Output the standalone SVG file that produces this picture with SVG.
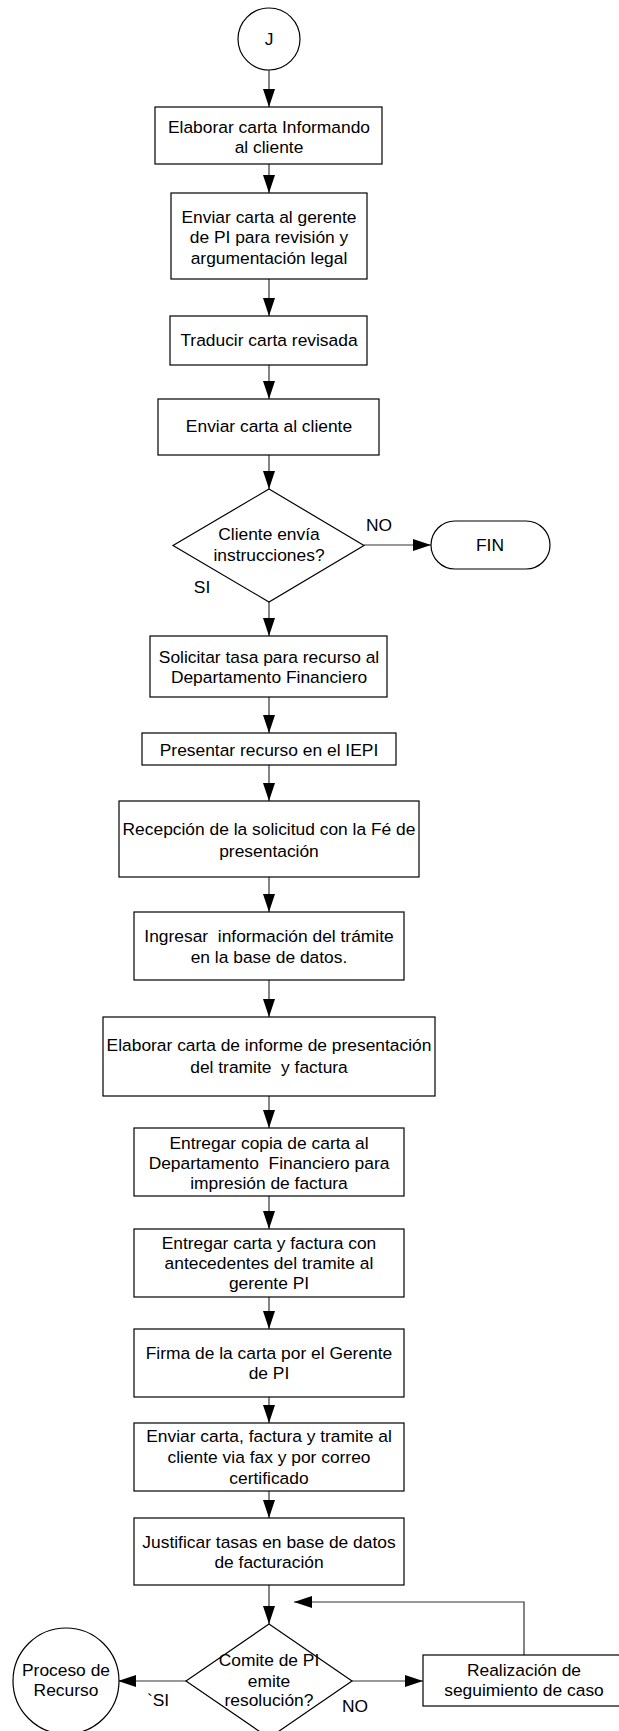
<svg xmlns="http://www.w3.org/2000/svg" width="619" height="1731" viewBox="0 0 619 1731">
<defs>
<style>
.n{fill:#fff;stroke:#000;stroke-width:1.2}
.t{font-family:"Liberation Sans",Arial,sans-serif;font-size:17.4px;fill:#000;text-anchor:middle}
.c{fill:none;stroke:#333;stroke-width:1.2}
</style>
<marker id="ah" markerUnits="userSpaceOnUse" markerWidth="18" markerHeight="12" refX="18" refY="6" orient="auto">
<path d="M0,0 L18,6 L0,12 z" fill="#000"/>
</marker>
</defs>
<rect width="619" height="1731" fill="#fff"/>
<g id="connectors">
<line class="c" x1="269" y1="70" x2="269" y2="107" marker-end="url(#ah)"/>
<line class="c" x1="269" y1="164" x2="269" y2="193" marker-end="url(#ah)"/>
<line class="c" x1="269" y1="279" x2="269" y2="316" marker-end="url(#ah)"/>
<line class="c" x1="269" y1="365" x2="269" y2="399" marker-end="url(#ah)"/>
<line class="c" x1="269" y1="455" x2="269" y2="489" marker-end="url(#ah)"/>
<line class="c" x1="364" y1="545" x2="431" y2="545" marker-end="url(#ah)"/>
<line class="c" x1="269" y1="602" x2="269" y2="636" marker-end="url(#ah)"/>
<line class="c" x1="269" y1="697" x2="269" y2="733" marker-end="url(#ah)"/>
<line class="c" x1="269" y1="765" x2="269" y2="801" marker-end="url(#ah)"/>
<line class="c" x1="269" y1="877" x2="269" y2="912" marker-end="url(#ah)"/>
<line class="c" x1="269" y1="980" x2="269" y2="1017" marker-end="url(#ah)"/>
<line class="c" x1="269" y1="1096" x2="269" y2="1128" marker-end="url(#ah)"/>
<line class="c" x1="269" y1="1196" x2="269" y2="1229" marker-end="url(#ah)"/>
<line class="c" x1="269" y1="1297" x2="269" y2="1329" marker-end="url(#ah)"/>
<line class="c" x1="269" y1="1397" x2="269" y2="1423" marker-end="url(#ah)"/>
<line class="c" x1="269" y1="1491" x2="269" y2="1518" marker-end="url(#ah)"/>
<line class="c" x1="269" y1="1585" x2="269" y2="1624" marker-end="url(#ah)"/>
<line class="c" x1="186" y1="1681" x2="118" y2="1681" marker-end="url(#ah)"/>
<line class="c" x1="352" y1="1681" x2="423" y2="1681" marker-end="url(#ah)"/>
<polyline class="c" points="524,1655 524,1602 294,1602" marker-end="url(#ah)"/>
<text class="t" x="379" y="531">NO</text>
<text class="t" x="202" y="593">SI</text>
<text class="t" x="158" y="1706">`SI</text>
<text class="t" x="355" y="1712">NO</text>
</g>
<g id="start">
<circle class="n" cx="269" cy="39" r="31"/>
<text class="t" x="269" y="45">J</text>
</g>
<g id="n1">
<rect class="n" x="155" y="107" width="227" height="57"/>
<text class="t" x="269" y="133">Elaborar carta Informando</text>
<text class="t" x="269" y="153">al cliente</text>
</g>
<g id="n2">
<rect class="n" x="171" y="193" width="196" height="86"/>
<text class="t" x="269" y="223">Enviar carta al gerente</text>
<text class="t" x="269" y="243">de PI para revisión y</text>
<text class="t" x="269" y="264">argumentación legal</text>
</g>
<g id="n3">
<rect class="n" x="170" y="316" width="197" height="49"/>
<text class="t" x="269" y="346">Traducir carta revisada</text>
</g>
<g id="n4">
<rect class="n" x="158" y="399" width="221" height="56"/>
<text class="t" x="269" y="432">Enviar carta al cliente</text>
</g>
<g id="d1">
<polygon class="n" points="269,489 364,545.5 269,602 173,545.5"/>
<text class="t" x="269" y="540">Cliente envía</text>
<text class="t" x="269" y="561">instrucciones?</text>
</g>
<g id="fin">
<rect class="n" x="431" y="521" width="119" height="48" rx="24" ry="24"/>
<text class="t" x="490" y="551">FIN</text>
</g>
<g id="n5">
<rect class="n" x="150" y="636" width="237" height="61"/>
<text class="t" x="269" y="663">Solicitar tasa para recurso al</text>
<text class="t" x="269" y="683">Departamento Financiero</text>
</g>
<g id="n6">
<rect class="n" x="142" y="733" width="254" height="32"/>
<text class="t" x="269" y="756">Presentar recurso en el IEPI</text>
</g>
<g id="n7">
<rect class="n" x="119" y="801" width="300" height="76"/>
<text class="t" x="269" y="835">Recepción de la solicitud con la Fé de</text>
<text class="t" x="269" y="857">presentación</text>
</g>
<g id="n8">
<rect class="n" x="134" y="912" width="270" height="68"/>
<text class="t" x="269" y="942" xml:space="preserve">Ingresar  información del trámite</text>
<text class="t" x="269" y="963">en la base de datos.</text>
</g>
<g id="n9">
<rect class="n" x="103" y="1017" width="332" height="79"/>
<text class="t" x="269" y="1051">Elaborar carta de informe de presentación</text>
<text class="t" x="269" y="1073" xml:space="preserve">del tramite  y factura</text>
</g>
<g id="n10">
<rect class="n" x="134" y="1128" width="270" height="68"/>
<text class="t" x="269" y="1149">Entregar copia de carta al</text>
<text class="t" x="269" y="1169" xml:space="preserve">Departamento  Financiero para</text>
<text class="t" x="269" y="1189">impresión de factura</text>
</g>
<g id="n11">
<rect class="n" x="134" y="1229" width="270" height="68"/>
<text class="t" x="269" y="1249">Entregar carta y factura con</text>
<text class="t" x="269" y="1269">antecedentes del tramite al</text>
<text class="t" x="269" y="1289">gerente PI</text>
</g>
<g id="n12">
<rect class="n" x="134" y="1329" width="270" height="68"/>
<text class="t" x="269" y="1359">Firma de la carta por el Gerente</text>
<text class="t" x="269" y="1379">de PI</text>
</g>
<g id="n13">
<rect class="n" x="134" y="1423" width="270" height="68"/>
<text class="t" x="269" y="1442">Enviar carta, factura y tramite al</text>
<text class="t" x="269" y="1463">cliente via fax y por correo</text>
<text class="t" x="269" y="1484">certificado</text>
</g>
<g id="n14">
<rect class="n" x="134" y="1518" width="270" height="67"/>
<text class="t" x="269" y="1548">Justificar tasas en base de datos</text>
<text class="t" x="269" y="1568">de facturación</text>
</g>
<g id="d2">
<polygon class="n" points="269,1624 352,1681 269,1738 186,1681"/>
<text class="t" x="269" y="1666">Comite de PI</text>
<text class="t" x="269" y="1687">emite</text>
<text class="t" x="269" y="1706">resolución?</text>
</g>
<g id="proceso">
<circle class="n" cx="66" cy="1681" r="53"/>
<text class="t" x="66" y="1676">Proceso de</text>
<text class="t" x="66" y="1696">Recurso</text>
</g>
<g id="n15">
<rect class="n" x="423" y="1655" width="202" height="51"/>
<text class="t" x="524" y="1676">Realización de</text>
<text class="t" x="524" y="1696">seguimiento de caso</text>
</g>
</svg>
